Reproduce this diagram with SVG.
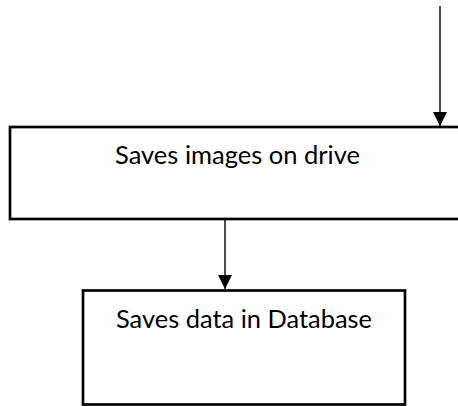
<svg xmlns="http://www.w3.org/2000/svg" width="458" height="406" viewBox="0 0 458 406">
<style>
.box{fill:#fff;stroke:#000;stroke-width:2.7}
.lbl{font-family:Lato,"Open Sans","Liberation Sans",sans-serif;font-size:25px;fill:#000}
.conn{stroke:#000;stroke-width:1.4;fill:none}
</style>
<defs>
<marker id="ah" markerUnits="userSpaceOnUse" markerWidth="16" markerHeight="16" refX="14" refY="7" orient="auto">
<path d="M0,0 L14,7 L0,14 Z" fill="#000"/>
</marker>
</defs>
<rect width="458" height="406" fill="#fff"/>
<g id="node-drive">
<rect class="box" x="10" y="127" width="460" height="92"/>
<text class="lbl" x="115" y="164" textLength="245" lengthAdjust="spacingAndGlyphs">Saves images on drive</text>
</g>
<g id="node-db">
<rect class="box" x="83" y="290.5" width="322" height="114"/>
<text class="lbl" x="116" y="328" textLength="256" lengthAdjust="spacingAndGlyphs">Saves data in Database</text>
</g>
<g id="connectors">
<line class="conn" x1="440" y1="6" x2="440" y2="126" marker-end="url(#ah)"/>
<line class="conn" x1="225" y1="220" x2="225" y2="289" marker-end="url(#ah)"/>
</g>
</svg>
